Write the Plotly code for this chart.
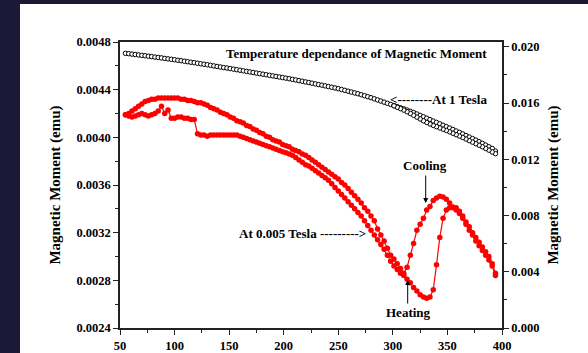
import plotly.graph_objects as go

# ---------------- data ----------------
# Temperature grid (K) used for the heating runs (ascending)
temp_heat = [55, 58, 61, 64, 67, 70, 73, 76, 79, 82, 85, 88, 91, 94, 97, 100, 103, 106, 109, 112,
             115, 118, 121, 124, 127, 130, 133, 136, 139, 142, 145, 148, 151, 154, 157, 160, 163, 166,
             169, 172, 175, 178, 181, 184, 187, 190, 193, 196, 199, 202, 205, 208, 211, 214, 217, 220,
             223, 226, 229, 232, 235, 238, 241, 244, 247, 250, 253, 256, 259, 262, 265, 268, 271, 274,
             277, 280, 283, 286, 289, 292, 295, 298, 301, 304, 307, 310, 313, 316, 319, 322, 325, 328,
             331, 334, 337, 340, 343, 346, 349, 352, 355, 358, 361, 364, 367, 370, 373, 376, 379, 382,
             385, 388, 391, 394]

# Temperature grid (K) used for the 0.005 T cooling run (descending)
temp_cool = [394, 391, 388, 385, 382, 379, 376, 373, 370, 367, 364, 361, 358, 355, 352, 349, 346, 343,
             340, 337, 334, 331, 328, 325, 322, 319, 316, 313, 310, 307, 304, 301, 298, 295, 292, 289,
             286, 283, 280, 277, 274, 271, 268, 265, 262, 259, 256, 253, 250, 247, 244, 241, 238, 235,
             232, 229, 226, 223, 220, 217, 214, 211, 208, 205, 202, 199, 196, 193, 190, 187, 184, 181,
             178, 175, 172, 169, 166, 163, 160, 157, 154, 151, 148, 145, 142, 139, 136, 133, 130, 127,
             124, 121, 118, 115, 112, 109, 106, 103, 100, 97, 94, 91, 88, 85, 82, 79, 76, 73, 70, 67,
             64, 61, 58, 55]

# 0.005 Tesla, heating (left axis, emu)
m005_heat = [0.00419, 0.00418, 0.00417, 0.00418, 0.00419, 0.00420, 0.00419, 0.00418, 0.00419, 0.00420,
             0.00422, 0.00426, 0.00420, 0.00423, 0.00416, 0.00416, 0.00417, 0.00417, 0.00416, 0.00416,
             0.00415, 0.00415, 0.00403, 0.00402, 0.00402, 0.00401, 0.00402, 0.00402, 0.00402, 0.00402,
             0.00402, 0.00402, 0.00402, 0.00402, 0.00402, 0.00401, 0.00400, 0.00399, 0.00398, 0.00397,
             0.00396, 0.00395, 0.00394, 0.00393, 0.00392, 0.00391, 0.00390, 0.00389, 0.00388, 0.00387,
             0.00386, 0.00385, 0.00383, 0.00381, 0.00379, 0.00377, 0.00376, 0.00374, 0.00372, 0.00370,
             0.00368, 0.00366, 0.00364, 0.00361, 0.00358, 0.00355, 0.00352, 0.00349, 0.00346, 0.00343,
             0.00340, 0.00337, 0.00334, 0.00330, 0.00326, 0.00322, 0.00318, 0.00314, 0.00310, 0.00306,
             0.00301, 0.00296, 0.00292, 0.00289, 0.00286, 0.00284, 0.00281, 0.00278, 0.00274, 0.00271,
             0.00268, 0.00266, 0.00265, 0.00266, 0.00272, 0.00293, 0.00316, 0.00332, 0.00339, 0.00341,
             0.00341, 0.00339, 0.00336, 0.00332, 0.00327, 0.00322, 0.00318, 0.00313, 0.00309, 0.00305,
             0.00301, 0.00297, 0.00292, 0.00284]

# 0.005 Tesla, cooling (left axis, emu)
m005_cool = [0.00286, 0.00294, 0.00300, 0.00304, 0.00308, 0.00312, 0.00316, 0.00320, 0.00325, 0.00329,
             0.00334, 0.00338, 0.00341, 0.003415, 0.00345, 0.00348, 0.00350, 0.003505, 0.00349, 0.00347,
             0.00342, 0.00339, 0.00332, 0.00327, 0.00322, 0.00311, 0.00301, 0.00291, 0.00286, 0.00290,
             0.00294, 0.00298, 0.00301, 0.00307, 0.00313, 0.00318, 0.00323, 0.00330, 0.00334, 0.00338,
             0.00341, 0.00345, 0.00348, 0.00351, 0.00354, 0.00357, 0.00360, 0.00362, 0.00365, 0.00367,
             0.00369, 0.00371, 0.00373, 0.00375, 0.00377, 0.00379, 0.00381, 0.00383, 0.00385, 0.00386,
             0.00388, 0.00389, 0.00390, 0.00392, 0.00393, 0.00394, 0.00396, 0.00397, 0.00398, 0.00400,
             0.00401, 0.00403, 0.00404, 0.00406, 0.00407, 0.00409, 0.00410, 0.00412, 0.00413, 0.00414,
             0.00416, 0.00417, 0.00419, 0.00420, 0.00421, 0.00423, 0.00424, 0.00425, 0.00427, 0.00428,
             0.00429, 0.00429, 0.00430, 0.00431, 0.00431, 0.00432, 0.00432, 0.00433, 0.00433, 0.00433,
             0.00433, 0.00433, 0.00433, 0.00433, 0.00432, 0.00432, 0.00431, 0.00430, 0.00428, 0.00426,
             0.00424, 0.00422, 0.00420, 0.00419]

# 1 Tesla, heating (right axis, emu)
m1_heat = [0.01953, 0.01951, 0.01948, 0.01945, 0.01942, 0.01939, 0.01936, 0.01933, 0.01930, 0.01927,
           0.01924, 0.01921, 0.01917, 0.01914, 0.01911, 0.01908, 0.01904, 0.01901, 0.01897, 0.01894,
           0.01890, 0.01887, 0.01883, 0.01879, 0.01876, 0.01872, 0.01868, 0.01864, 0.01860, 0.01856,
           0.01852, 0.01849, 0.01845, 0.01841, 0.01837, 0.01833, 0.01829, 0.01825, 0.01821, 0.01817,
           0.01813, 0.01809, 0.01805, 0.01801, 0.01797, 0.01793, 0.01789, 0.01785, 0.01781, 0.01777,
           0.01773, 0.01768, 0.01764, 0.01759, 0.01755, 0.01750, 0.01746, 0.01741, 0.01736, 0.01731,
           0.01727, 0.01722, 0.01717, 0.01712, 0.01707, 0.01702, 0.01696, 0.01690, 0.01684, 0.01678,
           0.01672, 0.01666, 0.01659, 0.01652, 0.01645, 0.01638, 0.01630, 0.01622, 0.01614, 0.01606,
           0.01598, 0.01590, 0.01582, 0.01574, 0.01566, 0.01558, 0.01550, 0.01541, 0.01532, 0.01522,
           0.01512, 0.01502, 0.01492, 0.01482, 0.01472, 0.01462, 0.01452, 0.01442, 0.01432, 0.01422,
           0.01412, 0.01401, 0.01391, 0.01380, 0.01369, 0.01358, 0.01347, 0.01336, 0.01325, 0.01313,
           0.01301, 0.01289, 0.01277, 0.01258]

# 1 Tesla, cooling (right axis, emu) - high temperature part where it separates
temp_cool_1t = [394, 391, 388, 385, 382, 379, 376, 373, 370, 367, 364, 361, 358, 355, 352, 349, 346,
                343, 340, 337, 334, 331, 328, 325, 322, 319, 316, 313, 310, 307, 304, 301]
m1_cool = [0.01240, 0.01252, 0.01265, 0.01277, 0.01289, 0.01300, 0.01311, 0.01322, 0.01333, 0.01344,
           0.01355, 0.01365, 0.01375, 0.01385, 0.01395, 0.01405, 0.01414, 0.01423, 0.01432, 0.01441,
           0.01451, 0.01462, 0.01474, 0.01487, 0.01500, 0.01513, 0.01526, 0.01538, 0.01550, 0.01560,
           0.01570, 0.01580]

x_ticks = [50, 100, 150, 200, 250, 300, 350, 400]
y_left_ticks = [0.0024, 0.0028, 0.0032, 0.0036, 0.0040, 0.0044, 0.0048]
y_right_ticks = [0.000, 0.004, 0.008, 0.012, 0.016, 0.020]

# ---------------- figure ----------------
FONT = "Liberation Serif"
RED = "#ff0000"

fig = go.Figure()

fig.add_trace(go.Scatter(x=temp_heat, y=m1_heat, mode="lines+markers", yaxis="y2",
                         line=dict(color="black", width=0.8),
                         marker=dict(symbol="circle", size=4.5, color="white",
                                     line=dict(color="black", width=1)),
                         showlegend=False, hoverinfo="skip"))
fig.add_trace(go.Scatter(x=temp_cool_1t, y=m1_cool, mode="lines+markers", yaxis="y2",
                         line=dict(color="black", width=0.8),
                         marker=dict(symbol="circle", size=4.5, color="white",
                                     line=dict(color="black", width=1)),
                         showlegend=False, hoverinfo="skip"))
fig.add_trace(go.Scatter(x=temp_heat, y=m005_heat, mode="lines+markers",
                         line=dict(color=RED, width=1.2),
                         marker=dict(symbol="circle", size=5.5, color=RED),
                         showlegend=False, hoverinfo="skip"))
fig.add_trace(go.Scatter(x=temp_cool, y=m005_cool, mode="lines+markers",
                         line=dict(color=RED, width=1.2),
                         marker=dict(symbol="circle", size=5.5, color=RED),
                         showlegend=False, hoverinfo="skip"))

L, R, T, B = 120, 86, 42, 25
W, H = 588, 353
pw, ph = W - L - R, H - T - B


def px_to_paper_x(px):
    return (px - L) / pw


def py_to_paper_y(py):
    return (H - B - py) / ph


tick_font = dict(family=FONT, size=12.5, color="black", weight="bold")
axis_line = dict(showline=True, linecolor="#222222", linewidth=1.5, automargin=False)

fig.update_layout(
    template="none",
    width=W, height=H, autosize=False,
    margin=dict(l=L, r=R, t=T, b=B, pad=0, autoexpand=False),
    paper_bgcolor="#1c1936",
    plot_bgcolor="white",
    font=dict(family=FONT, color="black"),
    xaxis=dict(range=[50, 400], tickvals=x_ticks, ticks="outside", ticklen=5, tickwidth=1.2,
               tickcolor="#222222", tickfont=tick_font, mirror=True, showgrid=False, zeroline=False,
               minor=dict(dtick=25, tick0=25, ticks="outside", ticklen=3, tickcolor="#222222", showgrid=False),
               **axis_line),
    yaxis=dict(range=[0.0024, 0.0048], tickvals=y_left_ticks, tickformat=".4f", ticks="outside",
               ticklen=5, tickwidth=1.2, tickcolor="#222222", tickfont=tick_font, showgrid=False,
               zeroline=False,
               minor=dict(dtick=0.0002, tick0=0.0024, ticks="outside", ticklen=3, tickcolor="#222222",
                          showgrid=False),
               title=dict(text="Magnetic Moment (emu)", font=dict(family=FONT, size=15, weight="bold"),
                          standoff=12),
               **axis_line),
    yaxis2=dict(range=[0, 0.02034], tickvals=y_right_ticks, tickformat=".3f", overlaying="y",
                side="right", ticks="outside", ticklen=5, tickwidth=1.2, tickcolor="#222222",
                tickfont=tick_font, showgrid=False, zeroline=False,
                minor=dict(dtick=0.002, tick0=0, ticks="outside", ticklen=3, tickcolor="#222222",
                           showgrid=False),
                title=dict(text="Magnetic Moment (emu)", font=dict(family=FONT, size=15, weight="bold"),
                           standoff=8),
                **axis_line),
    shapes=[dict(type="rect", xref="paper", yref="paper", layer="below",
                 x0=px_to_paper_x(20), x1=px_to_paper_x(W + 40),
                 y0=py_to_paper_y(H + 40), y1=py_to_paper_y(4),
                 fillcolor="white", line=dict(width=0))],
)

ann_font = dict(family=FONT, size=13, color="black", weight="bold")
annotations = [
    dict(text="Temperature dependance of Magnetic Moment", x=px_to_paper_x(356), y=py_to_paper_y(53.5)),
    dict(text="<--------At 1 Tesla", x=px_to_paper_x(438.5), y=py_to_paper_y(99.5)),
    dict(text="Cooling", x=px_to_paper_x(424.7), y=py_to_paper_y(165)),
    dict(text="Heating", x=px_to_paper_x(408.3), y=py_to_paper_y(312.5)),
    dict(text="At 0.005 Tesla --------->", x=px_to_paper_x(302.3), y=py_to_paper_y(233.5)),
]
for a in annotations:
    fig.add_annotation(xref="paper", yref="paper", showarrow=False, font=ann_font,
                       xanchor="center", yanchor="middle", **a)

# arrows
fig.add_annotation(xref="paper", yref="paper", x=px_to_paper_x(425.7), y=py_to_paper_y(203),
                   ax=0, ay=-29, text="", showarrow=True, arrowhead=2, arrowsize=1, arrowwidth=1,
                   arrowcolor="black")
fig.add_annotation(xref="paper", yref="paper", x=px_to_paper_x(407.7), y=py_to_paper_y(280),
                   ax=0, ay=25, text="", showarrow=True, arrowhead=2, arrowsize=1, arrowwidth=1,
                   arrowcolor="black")

fig.write_html("out.html")
